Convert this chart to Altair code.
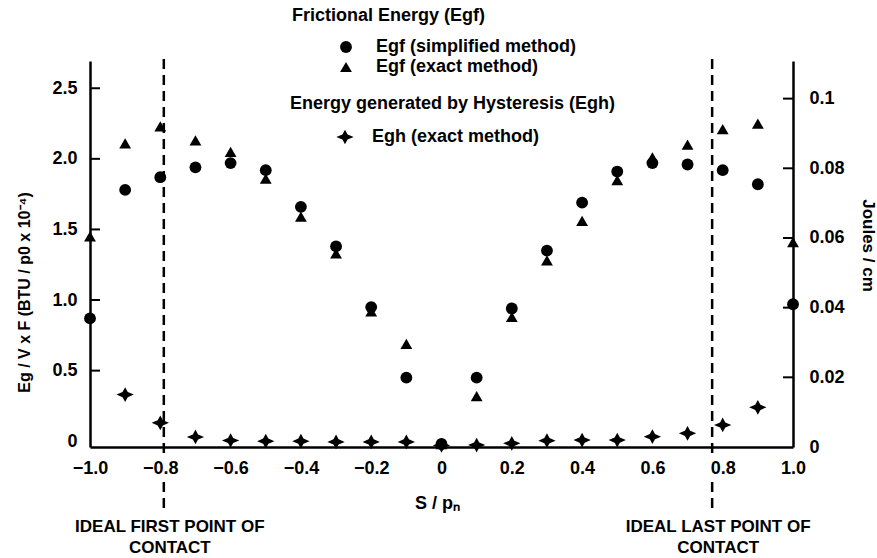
import altair as alt
import pandas as pd

# ---------------- data ----------------
x_vals = [-1.0, -0.9, -0.8, -0.7, -0.6, -0.5, -0.4, -0.3, -0.2, -0.1, 0.0,
          0.1, 0.2, 0.3, 0.4, 0.5, 0.6, 0.7, 0.8, 0.9, 1.0]
egf_simplified = [0.87, 1.78, 1.87, 1.94, 1.97, 1.92, 1.66, 1.38, 0.95, 0.45, -0.02,
                  0.45, 0.94, 1.35, 1.69, 1.91, 1.97, 1.96, 1.92, 1.82, 0.97]
egf_exact = [1.45, 2.11, 2.23, 2.13, 2.05, 1.86, 1.59, 1.33, 0.92, 0.69, -0.02,
             0.32, 0.88, 1.28, 1.56, 1.85, 2.01, 2.10, 2.21, 2.25, 1.41]
hyst_x = [-0.9, -0.8, -0.7, -0.6, -0.5, -0.4, -0.3, -0.2, -0.1, 0.0,
          0.1, 0.2, 0.3, 0.4, 0.5, 0.6, 0.7, 0.8, 0.9]
egh_exact = [0.33, 0.13, 0.03, 0.005, 0.0, 0.0, -0.005, -0.005, -0.005, -0.03,
             -0.027, -0.015, 0.004, 0.008, 0.008, 0.032, 0.056, 0.115, 0.24]

x_label_vals = [-1.0, -0.8, -0.6, -0.4, -0.2, 0.0, 0.2, 0.4, 0.6, 0.8, 1.0]
left_label_vals = [0.0, 0.5, 1.0, 1.5, 2.0, 2.5]
left_tick_vals = [0.5, 1.0, 1.5, 2.0, 2.5]
right_label_vals = [0.0, 0.02, 0.04, 0.06, 0.08, 0.1]
right_tick_vals = [0.02, 0.04, 0.06, 0.08, 0.1]

contact_x = [-0.79, 0.77]
contact_text = ["IDEAL FIRST POINT OF\nCONTACT", "IDEAL LAST POINT OF\nCONTACT"]

name_simpl = "Egf (simplified method)"
name_exact = "Egf (exact method)"
name_hyst = "Egh (exact method)"

STAR = "M0,-0.85L0.3,-0.3L1,0L0.3,0.3L0,0.85L-0.3,0.3L-1,0L-0.3,-0.3Z"
FONT = "Liberation Sans"

# ---------------- tables ----------------
fric_df = pd.DataFrame({
    "x": x_vals + x_vals,
    "y": egf_simplified + egf_exact,
    "method": [name_simpl] * len(x_vals) + [name_exact] * len(x_vals),
})
hyst_df = pd.DataFrame({"x": hyst_x, "y": egh_exact, "method": [name_hyst] * len(hyst_x)})
lt_df = pd.DataFrame({"y": left_tick_vals})
rt_df = pd.DataFrame({"r": right_tick_vals})
contact_df = pd.DataFrame({"x": contact_x, "label": contact_text})

# ---------------- scales / axes ----------------
xscale = alt.Scale(domain=[-1.0, 1.0], nice=False, zero=False)
yscale = alt.Scale(domain=[-0.041, 2.693], nice=False, zero=False)
rscale = alt.Scale(domain=[0.0, 0.1108], nice=False, zero=False)

xaxis = alt.Axis(
    values=x_label_vals,
    labelExpr="datum.value == 0 ? '0' : format(datum.value, '.1f')",
    ticks=False, grid=False, domainColor="black", domainWidth=2.5,
    labelFont=FONT, labelFontSize=18, labelFontWeight="bold", labelColor="black",
    labelPadding=12, labelFlush=False,
    title="S / pₙ", titleFont=FONT, titleFontSize=18, titleFontWeight="bold",
    titleColor="black", titleX=347, titleY=56, titleAlign="center",
    titleBaseline="middle", titleAngle=0,
)
yaxis = alt.Axis(
    orient="left", values=left_label_vals,
    labelExpr="datum.value == 0 ? '0' : format(datum.value, '.1f')",
    ticks=False, grid=False, domainColor="black", domainWidth=2.5,
    labelFont=FONT, labelFontSize=18, labelFontWeight="bold", labelColor="black",
    labelPadding=13, labelFlush=False,
    title="Eg / V x F   (BTU / p0 x 10⁻⁴)", titleFont=FONT, titleFontSize=16,
    titleFontWeight="bold", titleColor="black", titleX=-66, titleY=231,
    titleAngle=270, titleAlign="center", titleBaseline="middle",
)
raxis = alt.Axis(
    orient="right", values=right_label_vals, format=".2~f",
    ticks=False, grid=False, domainColor="black", domainWidth=2.5,
    labelFont=FONT, labelFontSize=18, labelFontWeight="bold", labelColor="black",
    labelPadding=16, labelFlush=False,
    title="Joules / cm", titleFont=FONT, titleFontSize=17, titleFontWeight="bold",
    titleColor="black", titleX=74, titleY=184, titleAngle=90,
    titleAlign="center", titleBaseline="middle",
)

X = alt.X("x:Q", scale=xscale, axis=xaxis)
Y = alt.Y("y:Q", scale=yscale, axis=yaxis)

legend_common = dict(
    orient="none", padding=0, direction="vertical",
    titleFont=FONT, titleFontSize=18, titleFontWeight="bold", titleColor="black",
    labelFont=FONT, labelFontSize=18, labelFontWeight="bold", labelColor="black",
    titleLimit=600, labelLimit=600, titleAnchor="start",
    symbolFillColor="black", symbolStrokeWidth=0, symbolOpacity=1,
)

fric = alt.Chart(fric_df).mark_point(
    filled=True, color="black", opacity=1, size=140, strokeWidth=0
).encode(
    x=X, y=Y,
    shape=alt.Shape(
        "method:N",
        scale=alt.Scale(domain=[name_simpl, name_exact], range=["circle", "triangle-up"]),
        legend=alt.Legend(
            title="Frictional Energy (Egf)", legendX=202, legendY=-54,
            symbolOffset=45, labelOffset=21, titlePadding=13, rowPadding=2,
            symbolSize=140, **legend_common,
        ),
    ),
)

hyst = alt.Chart(hyst_df).mark_point(
    filled=True, color="black", opacity=1, size=300, strokeWidth=0
).encode(
    x=X, y=Y,
    shape=alt.Shape(
        "method:N",
        scale=alt.Scale(domain=[name_hyst], range=[STAR]),
        legend=alt.Legend(
            title="Energy generated by Hysteresis (Egh)", legendX=200, legendY=34,
            symbolOffset=46, labelOffset=18, titlePadding=15,
            symbolSize=300, **legend_common,
        ),
    ),
)

left_ticks = alt.Chart(lt_df).mark_rule(color="black", strokeWidth=2).encode(
    y=Y, x=alt.value(0), x2=alt.value(10)
)

dash_top = alt.Chart(contact_df).mark_rule(
    color="black", strokeWidth=2.5, strokeDash=[10, 6]
).encode(x=X, y=alt.value(-2), y2=alt.value(392))

dash_bottom = alt.Chart(contact_df).mark_rule(
    color="black", strokeWidth=2.5, strokeDash=[10, 6]
).encode(x=X, y=alt.value(421), y2=alt.value(453))

contact_labels = alt.Chart(contact_df).mark_text(
    font=FONT, fontSize=17, fontWeight="bold", color="black",
    align="center", baseline="top", lineBreak="\n", lineHeight=21, dx=6,
).encode(x=X, y=alt.value(458), text="label:N")

inner = alt.layer(
    dash_top, dash_bottom, contact_labels, left_ticks, fric, hyst
).resolve_scale(shape="independent")

right = alt.Chart(rt_df).mark_rule(color="black", strokeWidth=2).encode(
    y=alt.Y("r:Q", scale=rscale, axis=raxis),
    x=alt.value(693), x2=alt.value(703),
)

chart = alt.layer(inner, right).resolve_scale(y="independent").properties(
    width=703, height=386, autosize="none",
    padding={"left": 90, "top": 61, "right": 84, "bottom": 111},
    background="white",
).configure_view(stroke=None)

chart.save("out.html", embed_options={"renderer": "svg", "actions": False})
